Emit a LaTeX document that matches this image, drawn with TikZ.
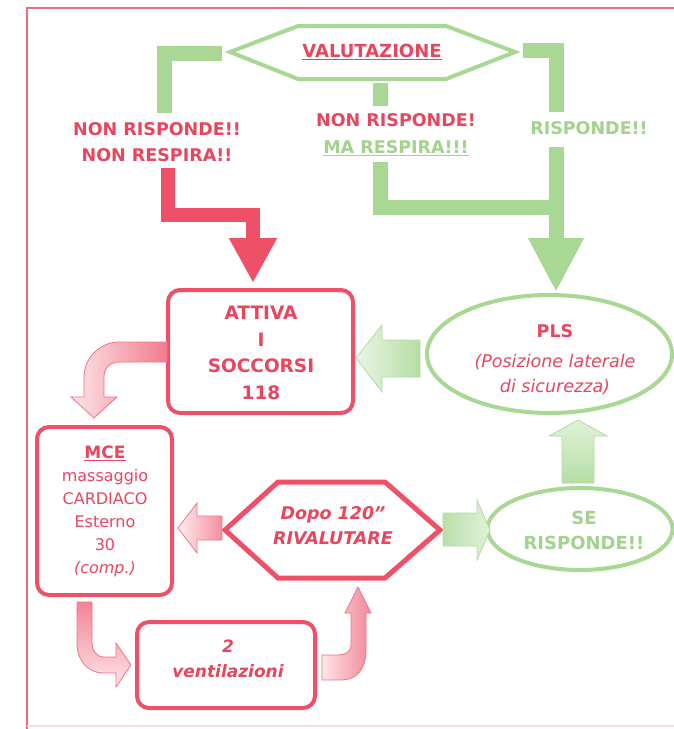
\documentclass[tikz,border=0pt]{standalone}
\usepackage{fontspec}
\setmainfont{DejaVu Sans}
\usetikzlibrary{arrows.meta,shapes.geometric}
\definecolor{redS}{HTML}{EE5068}
\definecolor{redT}{HTML}{E8465E}
\definecolor{greenS}{HTML}{A8D894}
\definecolor{greenT}{HTML}{A2D28D}
\definecolor{frameC}{HTML}{F06A7C}
\tikzset{
  gline/.style={line width=15pt, draw=greenS, line join=miter},
  rline/.style={line width=14pt, draw=redS, line join=miter},
  rbox/.style={draw=redS, line width=4pt, rounded corners=12pt, fill=white},
  gell/.style={ellipse, draw=greenS, line width=4pt, fill=white, inner sep=0pt},
  txt/.style={align=center, inner sep=0pt},
  lbl/.style={txt, font=\bfseries\fontsize{17.5}{26}\selectfont},
  gblock/.style={draw=greenS!90, line width=0.8pt},
  rblock/.style={draw=redS!80, line width=0.8pt},
}
\begin{document}
\begin{tikzpicture}[x=1pt,y=-1pt]
\useasboundingbox (0,0) rectangle (674,729);
% frame
\draw[frameC, line width=2.5pt] (674,8) -- (27,8) -- (27,729);
\draw[frameC!25, line width=2pt] (27,726) -- (674,726);

% VALUTAZIONE hexagon
\draw[greenS, line width=4pt, line join=miter] (230,52) -- (298,26) -- (446,26) -- (515,52) -- (446,79) -- (298,79) -- cycle;
\node[txt, text=redT, font=\bfseries\fontsize{18}{22}\selectfont] (val) at (372,52) {\underline{VALUTAZIONE}};
\coordinate (valL) at (222,53);
\coordinate (valR) at (523,50);
\coordinate (valB) at (380,83);

% labels
\node[lbl, text=redT] (nrL) at (157,142.5) {NON RISPONDE!!\\NON RESPIRA!!};
\node[lbl] (nrM) at (396,135) {\textcolor{redT}{NON RISPONDE!}\\[1pt]\textcolor{greenT}{\underline{MA RESPIRA!!!}}};
\node[lbl, text=greenT] (ris) at (589,128) {RISPONDE!!};

% green brackets
\draw[gline] (valL) -- (164,53) -- (164,113);
\draw[gline] (valR) -- (556,50) -- (556,112);
\draw[gline] (valB) -- (380,106);
\draw[gline] (380,162) -- (380,207) -- (563.5,207);
\draw[gline, -{Triangle[length=54pt,width=52pt]}] (556,147) -- (556,292);

% red elbow arrow
\draw[rline, -{Triangle[length=45pt,width=45pt]}] (168,168) -- (168,215) -- (253,215) -- (253,283);

% boxes
\node[rbox, minimum width=185pt, minimum height=123pt] (att) at (260.5,351.5) {};
\node[txt, text=redT, font=\bfseries\fontsize{18.5}{26.5}\selectfont] (attT) at (261,353) {ATTIVA\\I\\SOCCORSI\\118};

\node[gell, minimum width=245pt, minimum height=118pt] (pls) at (549.5,354) {};
\node[txt, text=redT, font=\itshape\fontsize{17.5}{25}\selectfont] (plsT) at (555,360) {\textbf{\upshape PLS}\\[5pt](Posizione laterale\\di sicurezza)};

\node[rbox, minimum width=135pt, minimum height=168pt] (mce) at (104.5,511) {};
\node[txt, text=redT, font=\fontsize{16}{23}\selectfont] (mceT) at (105,511) {\textbf{\fontsize{17}{23}\selectfont\underline{MCE}}\\massaggio\\CARDIACO\\Esterno\\30\\\textit{(comp.)}};

\node[rbox, minimum width=178pt, minimum height=86pt] (ven) at (226,665) {};
\node[txt, text=redT, font=\bfseries\itshape\fontsize{17}{25}\selectfont] (venT) at (228,659) {2\\ventilazioni};

% RIVALUTARE hexagon
\draw[redS, line width=5pt, line join=miter, fill=white] (225,530) -- (278,482) -- (385,482) -- (440,530) -- (385,578) -- (278,578) -- cycle;
\node[txt, text=redT, font=\bfseries\itshape\fontsize{17.5}{25}\selectfont] (riv) at (333,526) {Dopo 120”\\RIVALUTARE};

\node[gell, minimum width=185pt, minimum height=82pt] (se) at (580,529) {};
\node[txt, text=greenT, font=\bfseries\fontsize{18}{25}\selectfont] (seT) at (584,530.5) {SE\\RISPONDE!!};

% block arrows
\path[gblock, left color=greenS!25, right color=greenS!85] (356,358) -- (382,325) -- (382,340) -- (420,340) -- (420,377) -- (382,377) -- (382,392) -- cycle;
\path[rblock, left color=redS!10, right color=redS!65] (178,528) -- (197,503) -- (197,516) -- (222,516) -- (222,540) -- (197,540) -- (197,553) -- cycle;
\path[gblock, left color=greenS!80, right color=greenS!35] (443,513) -- (477,513) -- (477,500) -- (490,530) -- (477,560) -- (477,546) -- (443,546) -- cycle;
\path[gblock, top color=greenS!35, bottom color=greenS!85] (578,420) -- (607,436) -- (594,436) -- (594,483) -- (562,483) -- (562,436) -- (549,436) -- cycle;

% curved red arrows
\path[rblock, left color=redS!15, right color=redS!75] (167,342) -- (119,342) .. controls (100,342) and (84,358) .. (84,377) -- (84,397) -- (71,397) -- (94,418) -- (117,397) -- (104,397) -- (104,377) .. controls (104,368) and (110,362) .. (119,362) -- (167,362) -- cycle;
\path[rblock, top color=redS!70, bottom color=redS!15] (77,602) -- (77,643) .. controls (77,660) and (87,673) .. (104,673) -- (116,673) -- (116,687) -- (131,665) -- (116,643) -- (116,657) -- (104,657) .. controls (96,657) and (92,650) .. (92,643) -- (92,602) -- cycle;
\path[rblock, left color=redS!15, right color=redS!70] (322,680) -- (340,680) .. controls (358,680) and (366,668) .. (366,650) -- (366,613) -- (371,613) -- (358,587) -- (345,613) -- (351,613) -- (351,645) .. controls (351,652) and (345,655) .. (338,655) -- (322,655) -- cycle;
\end{tikzpicture}
\end{document}
